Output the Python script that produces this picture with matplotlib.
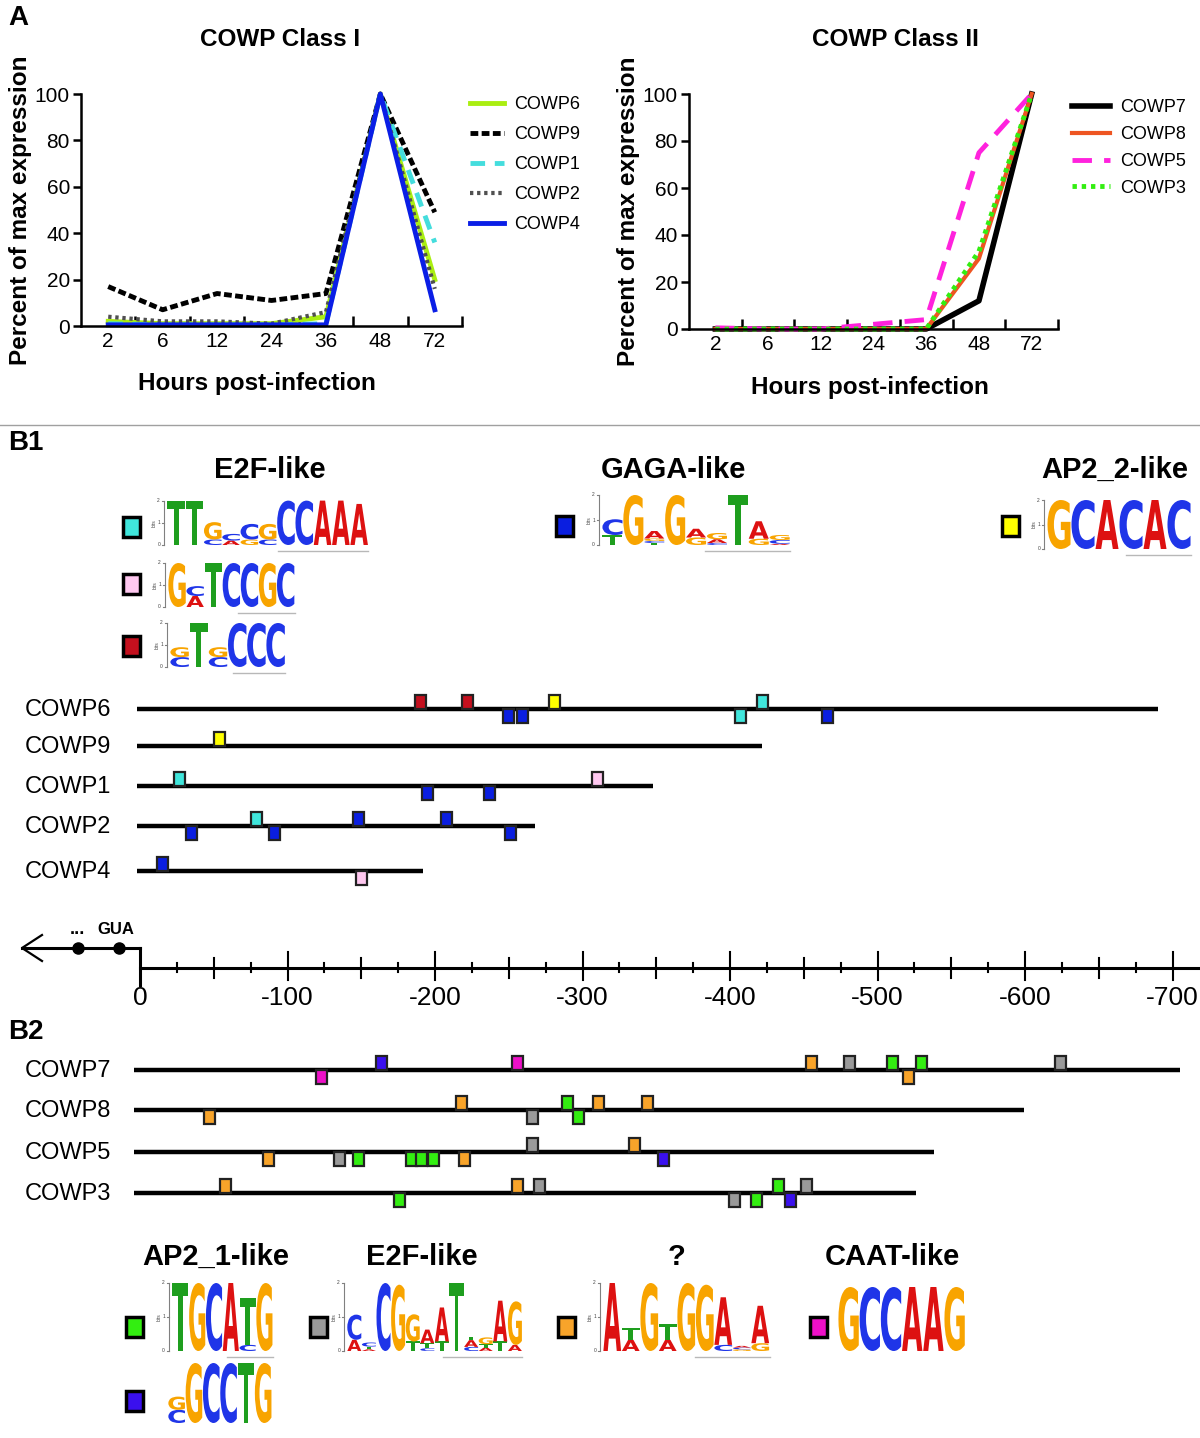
import numpy as np
import matplotlib
matplotlib.use('Agg')
import matplotlib.pyplot as plt
from matplotlib.textpath import TextPath
from matplotlib.patches import PathPatch, Rectangle
from matplotlib.font_manager import FontProperties
from matplotlib.transforms import Affine2D

plt.rcParams['font.family'] = ['Liberation Sans', 'DejaVu Sans']
NARROW = ['Liberation Sans Narrow', 'Liberation Sans', 'DejaVu Sans']

# ---- panel A data: percent of max expression ----
hours = ['2', '6', '12', '24', '36', '48', '72']

class1_names = ['COWP6', 'COWP9', 'COWP1', 'COWP2', 'COWP4']
cowp6 = [2, 1, 1, 1, 4, 100, 20]
cowp9 = [17, 7, 14, 11, 14, 100, 49]
cowp1 = [1, 0.5, 0.5, 0.5, 1, 100, 36]
cowp2 = [4, 2, 2, 1, 6, 100, 16]
cowp4 = [0.5, 0.5, 0.5, 0.5, 0.5, 100, 7]

class2_names = ['COWP7', 'COWP8', 'COWP5', 'COWP3']
cowp7 = [0, 0, 0, 0, 0, 12, 100]
cowp8 = [0, 0, 0, 0, 0, 30, 100]
cowp5 = [0.5, 0, 0, 2, 4, 75, 100]
cowp3 = [0, 0, 0, 0, 0, 33, 100]

# ---- panel B: promoter lengths (bp upstream) and motif sites (bp, strand, motif) ----
b1_genes = ['COWP6', 'COWP9', 'COWP1', 'COWP2', 'COWP4']
b1_lengths = [690, 422, 348, 268, 192]
b1_sites = [
    [(190, '+', 'e2f_c'), (222, '+', 'e2f_c'), (250, '-', 'gaga'), (259, '-', 'gaga'),
     (281, '+', 'ap2_2'), (407, '-', 'e2f_a'), (422, '+', 'e2f_a'), (466, '-', 'gaga')],
    [(54, '+', 'ap2_2')],
    [(27, '+', 'e2f_a'), (195, '-', 'gaga'), (237, '-', 'gaga'), (310, '+', 'e2f_b')],
    [(35, '-', 'gaga'), (79, '+', 'e2f_a'), (91, '-', 'gaga'), (148, '+', 'gaga'),
     (208, '+', 'gaga'), (251, '-', 'gaga')],
    [(15, '+', 'gaga'), (150, '-', 'e2f_b')],
]

b2_genes = ['COWP7', 'COWP8', 'COWP5', 'COWP3']
b2_lengths = [705, 599, 538, 526]
b2_sites = [
    [(123, '-', 'caat'), (164, '+', 'ap2_1b'), (256, '+', 'caat'), (455, '+', 'unk'),
     (481, '+', 'e2f_2'), (510, '+', 'ap2_1a'), (521, '-', 'unk'), (530, '+', 'ap2_1a'),
     (624, '+', 'e2f_2')],
    [(47, '-', 'unk'), (218, '+', 'unk'), (266, '-', 'e2f_2'), (290, '+', 'ap2_1a'),
     (297, '-', 'ap2_1a'), (311, '+', 'unk'), (344, '+', 'unk')],
    [(87, '-', 'unk'), (135, '-', 'e2f_2'), (148, '-', 'ap2_1a'), (184, '-', 'ap2_1a'),
     (191, '-', 'ap2_1a'), (199, '-', 'ap2_1a'), (220, '-', 'unk'), (266, '+', 'e2f_2'),
     (335, '+', 'unk'), (355, '-', 'ap2_1b')],
    [(58, '+', 'unk'), (176, '-', 'ap2_1a'), (256, '+', 'unk'), (271, '+', 'e2f_2'),
     (403, '-', 'e2f_2'), (418, '-', 'ap2_1a'), (433, '+', 'ap2_1a'), (441, '-', 'ap2_1b'),
     (452, '+', 'e2f_2')],
]

ruler_ticks = np.arange(0, 701, 25)

# ---- sequence logos: each position is a stack (letter, bits), bottom to top ----
logo_e2f_a = [[('T', 2.0)], [('T', 2.0)], [('C', 0.25), ('G', 0.78)], [('A', 0.2), ('C', 0.3)],
              [('G', 0.25), ('C', 0.7)], [('C', 0.25), ('G', 0.7)], [('C', 2.0)], [('C', 2.0)],
              [('A', 2.0)], [('A', 2.0)], [('A', 1.85)]]
logo_e2f_b = [[('G', 2.0)], [('A', 0.5), ('C', 0.45)], [('T', 2.0)], [('C', 2.0)], [('C', 2.0)],
              [('G', 2.0)], [('C', 2.0)]]
logo_e2f_c = [[('C', 0.45), ('G', 0.45)], [('T', 2.0)], [('C', 0.45), ('G', 0.45)],
              [('C', 2.0)], [('C', 2.0)], [('C', 2.0)]]
logo_gaga = [[('T', 0.4), ('C', 0.63)], [('G', 2.0)],
             [('T', 0.08), ('C', 0.08), ('G', 0.1), ('A', 0.3)], [('G', 2.0)],
             [('G', 0.3), ('A', 0.35)], [('C', 0.08), ('A', 0.15), ('G', 0.25)], [('T', 2.0)],
             [('G', 0.25), ('A', 0.7)], [('A', 0.05), ('C', 0.15), ('G', 0.2)]]
logo_ap2_2 = [[('G', 2.0)], [('C', 2.0)], [('A', 2.0)], [('C', 2.0)], [('A', 2.0)], [('C', 2.0)]]
logo_ap2_1a = [[('T', 2.0)], [('G', 2.0)], [('C', 2.0)], [('A', 2.0)],
               [('C', 0.18), ('T', 1.37)], [('G', 2.0)]]
logo_ap2_1b = [[('C', 0.44), ('G', 0.44)], [('G', 2.0)], [('C', 2.0)], [('C', 2.0)],
               [('T', 2.0)], [('G', 2.0)]]
logo_e2f_2 = [[('A', 0.33), ('C', 0.74)], [('A', 0.05), ('T', 0.08), ('C', 0.12)], [('C', 2.0)],
              [('G', 1.95)], [('T', 0.28), ('G', 0.8)], [('C', 0.08), ('T', 0.15), ('A', 0.4)],
              [('T', 0.28), ('A', 1.0)], [('T', 2.0)], [('C', 0.12), ('A', 0.2), ('T', 0.1)],
              [('A', 0.1), ('T', 0.1), ('G', 0.2)], [('T', 0.28), ('A', 1.2)],
              [('A', 0.18), ('G', 1.28)]]
logo_unk = [[('A', 2.0)], [('A', 0.33), ('T', 0.35)], [('G', 2.0)], [('A', 0.33), ('T', 0.45)],
            [('G', 2.0)], [('G', 1.95)], [('C', 0.18), ('A', 1.4)],
            [('G', 0.05), ('C', 0.05), ('A', 0.05)], [('G', 0.23), ('A', 1.1)]]
logo_caat = [[('G', 2.0)], [('C', 2.0)], [('C', 2.0)], [('A', 2.0)], [('A', 2.0)], [('G', 2.0)]]

motif_col = {'e2f_a': '#40e6dc', 'e2f_b': '#ffc8f0', 'e2f_c': '#c4101e', 'gaga': '#0a1ee0',
             'ap2_2': '#ffff00', 'ap2_1a': '#33ee11', 'ap2_1b': '#3a10ee', 'e2f_2': '#9a9a9a',
             'unk': '#f8a42a', 'caat': '#ee10c8'}
letter_col = {'A': '#dd1111', 'C': '#1f35e8', 'G': '#f8a400', 'T': '#1e9e1e'}

W, H = 1200, 1438
fig = plt.figure(figsize=(12, 14.38), dpi=100)


def box(x0, y0, x1, y1):
    return [x0 / W, 1 - y1 / H, (x1 - x0) / W, (y1 - y0) / H]


# background axes in pixel units, track axes in bp units
ax_bg = fig.add_axes([0, 0, 1, 1])
ax_bg.set_xlim(0, W)
ax_bg.set_ylim(H, 0)
ax_bg.axis('off')

PX0, PXBP = 140, 1.475   # pixel of position 0, pixels per bp
ax_trk = fig.add_axes([0, 0, 1, 1])
ax_trk.set_xlim(PX0 / PXBP, -(W - PX0) / PXBP)
ax_trk.set_ylim(H, 0)
ax_trk.axis('off')
ax_trk.patch.set_visible(False)

# ---------------- panel A ----------------
axL = fig.add_axes(box(81, 94, 462, 326))
axR = fig.add_axes(box(689, 94, 1058, 329))

x = np.arange(len(hours))
style1 = [dict(color='#aaee11', lw=3.5, ls='-'),
          dict(color='black', lw=3.5, ls=(0, (1.6, 0.7))),
          dict(color='#44dddd', lw=3.5, ls=(0, (3, 2))),
          dict(color='#505050', lw=3, ls=(0, (0.8, 0.9))),
          dict(color='#0a1ee6', lw=3.5, ls='-')]
for name, vals, st in zip(class1_names, [cowp6, cowp9, cowp1, cowp2, cowp4], style1):
    axL.plot(x, vals, label=name, clip_on=False, **st)

style2 = [dict(color='black', lw=4, ls='-'),
          dict(color='#ee5522', lw=3, ls='-'),
          dict(color='#ff22dd', lw=3.5, ls=(0, (4, 2.5))),
          dict(color='#33ee11', lw=3.5, ls=(0, (0.9, 1.0)))]
for name, vals, st in zip(class2_names, [cowp7, cowp8, cowp5, cowp3], style2):
    axR.plot(x, vals, label=name, clip_on=False, **st)

for ax in (axL, axR):
    ax.spines[['top', 'right']].set_visible(False)
    ax.spines[['left', 'bottom']].set_linewidth(1.8)
    ax.set_xlim(-0.5, 6.5)
    ax.set_ylim(0, 100)
    ax.set_yticks([0, 20, 40, 60, 80, 100])
    ax.set_xticks(x)
    ax.set_xticklabels(hours)
    ax.set_xticks(np.arange(0.5, 7, 1), minor=True)
    ax.tick_params(axis='x', which='major', length=0, pad=4)
    ax.tick_params(axis='x', which='minor', direction='in', length=7, width=1.8)
    ax.tick_params(axis='y', direction='out', length=6, width=1.8, pad=2)
    for lab in ax.get_xticklabels() + ax.get_yticklabels():
        lab.set_fontfamily(NARROW)
        lab.set_fontsize(15)
    ax.set_ylabel('Percent of max expression', fontsize=17.5, fontweight='bold')
    ax.set_xlabel('Hours post-infection', fontsize=17.5, fontweight='bold')
    ax.patch.set_visible(False)

axL.yaxis.set_label_coords(-0.128, 0.5)
axR.yaxis.set_label_coords(-0.133, 0.5)
axL.xaxis.set_label_coords(0.462, -0.2)
axR.xaxis.set_label_coords(0.49, -0.2)

axL.legend(loc='upper left', bbox_to_anchor=(470 / W, 1 - 96 / H), bbox_transform=fig.transFigure,
           frameon=False, fontsize=13, handlelength=1.9, handletextpad=0.55, labelspacing=0.72,
           borderpad=0, borderaxespad=0)
axR.legend(loc='upper left', bbox_to_anchor=(1072 / W, 1 - 99 / H), bbox_transform=fig.transFigure,
           frameon=False, fontsize=13, handlelength=2.1, handletextpad=0.55, labelspacing=0.55,
           borderpad=0, borderaxespad=0)

fig.text(280 / W, 1 - 40 / H, 'COWP Class I', ha='center', va='center', fontsize=17.5, fontweight='bold')
fig.text(895 / W, 1 - 40 / H, 'COWP Class II', ha='center', va='center', fontsize=17.5, fontweight='bold')

# panel letters and separator
ax_bg.text(8, 18, 'A', fontsize=20, fontweight='bold', va='center')
ax_bg.text(8, 443, 'B1', fontsize=20, fontweight='bold', va='center')
ax_bg.text(8, 1032, 'B2', fontsize=20, fontweight='bold', va='center')
ax_bg.plot([0, W], [425, 425], color='#a0a0a0', lw=1)

# ---------------- sequence logos ----------------
LOGO_FONT = FontProperties(family='DejaVu Sans', weight='bold')


def draw_letter(ch, x0, y_bot, w, h):
    tp = TextPath((0, 0), ch, size=1, prop=LOGO_FONT)
    bb = tp.get_extents()
    tr = Affine2D().translate(-bb.x0, -bb.y0).scale(w / bb.width, -h / bb.height).translate(x0, y_bot)
    ax_bg.add_patch(PathPatch(tr.transform_path(tp), color=letter_col[ch], lw=0))


def draw_logo(stacks, x0, y0, col_w, bit_h, axis=True):
    for i, stack in enumerate(stacks):
        yb = y0
        for ch, bits in stack:
            h = bits * bit_h
            draw_letter(ch, x0 + i * col_w + col_w * 0.02, yb, col_w * 0.96, h)
            yb -= h
    if axis:
        ax_x = x0 - 3
        ax_bg.plot([ax_x, ax_x], [y0, y0 - 2 * bit_h], color='#808080', lw=0.8)
        for b in (0, 1, 2):
            yy = y0 - b * bit_h
            ax_bg.plot([ax_x - 2.5, ax_x], [yy, yy], color='#808080', lw=0.8)
            ax_bg.text(ax_x - 4, yy, str(b), fontsize=3.5, ha='right', va='center', color='#404040')
        ax_bg.text(ax_x - 10, y0 - bit_h, 'bits', fontsize=3.5, rotation=90, ha='center', va='center',
                   color='#404040')
        ax_bg.plot([x0 + len(stacks) * col_w * 0.55, x0 + len(stacks) * col_w],
                   [y0 + 6, y0 + 6], color='#b8b8b8', lw=1.0)


def legend_square(cx, cy, motif):
    ax_bg.add_patch(Rectangle((cx - 8.5, cy - 10), 17, 20, fc=motif_col[motif], ec='black', lw=2.5))


# B1 headings, logos, squares
for txt, cx, cy in [('E2F-like', 270, 470), ('GAGA-like', 673, 470), ('AP2_2-like', 1115, 470)]:
    ax_bg.text(cx, cy, txt, ha='center', va='center', fontsize=21, fontweight='bold')
legend_square(131, 527, 'e2f_a')
legend_square(131, 584, 'e2f_b')
legend_square(131, 646, 'e2f_c')
legend_square(564, 526, 'gaga')
legend_square(1010, 526, 'ap2_2')
draw_logo(logo_e2f_a, 167, 545, 18.3, 22.2)
draw_logo(logo_e2f_b, 168, 607, 18.1, 22.0)
draw_logo(logo_e2f_c, 170, 667, 19.2, 22.0)
draw_logo(logo_gaga, 602, 545, 20.9, 25.0)
draw_logo(logo_ap2_2, 1047, 549, 24.0, 24.5)

# B2 headings, logos, squares
for txt, cx, cy in [('AP2_1-like', 216, 1257), ('E2F-like', 422, 1257), ('?', 677, 1257),
                    ('CAAT-like', 892, 1257)]:
    ax_bg.text(cx, cy, txt, ha='center', va='center', fontsize=21, fontweight='bold')
legend_square(134, 1327, 'ap2_1a')
legend_square(318, 1327, 'e2f_2')
legend_square(566, 1327, 'unk')
legend_square(818, 1327, 'caat')
legend_square(134, 1401, 'ap2_1b')
draw_logo(logo_ap2_1a, 172, 1351, 16.8, 34.0)
draw_logo(logo_ap2_1b, 168, 1423, 17.3, 30.0, axis=False)
draw_logo(logo_e2f_2, 347, 1351, 14.6, 34.0)
draw_logo(logo_unk, 603, 1351, 18.5, 34.0)
draw_logo(logo_caat, 838, 1351, 21.2, 32.0, axis=False)

# ---------------- promoter tracks ----------------
MW, MH = 11 / PXBP, 14


def draw_track(name, length, sites, y, start):
    ax_trk.plot([start, -length], [y, y], color='black', lw=3.2, solid_capstyle='butt', zorder=2)
    ax_bg.text(25, y + 1, name, ha='left', va='center', fontsize=17)
    for bp, strand, motif in sites:
        y0 = y - MH if strand == '+' else y
        ax_trk.add_patch(Rectangle((-bp - MW / 2, y0), MW, MH, fc=motif_col[motif], ec='#222222',
                                   lw=1.6, zorder=3))


for name, length, sites, y in zip(b1_genes, b1_lengths, b1_sites, [709, 746, 786, 826, 871]):
    draw_track(name, length, sites, y, 2)
for name, length, sites, y in zip(b2_genes, b2_lengths, b2_sites, [1070, 1110, 1152, 1193]):
    draw_track(name, length, sites, y, 4)

# ruler
RY = 968
ax_trk.plot([0, -(W - PX0) / PXBP], [RY, RY], color='black', lw=2.2)
for t in ruler_ticks:
    if t == 0:
        continue
    if t % 100 == 0:
        top, bot = RY - 16, RY + 12
    elif t % 50 == 0:
        top, bot = RY - 10, RY + 10
    else:
        top, bot = RY - 5, RY + 4
    ax_trk.plot([-t, -t], [top, bot], color='black', lw=1.5)
for t in ruler_ticks[ruler_ticks % 100 == 0]:
    ax_trk.text(-t, 998, str(-t) if t else '0', ha='center', va='center', fontsize=19,
                fontfamily=NARROW)
# start codon side: step, dots and arrow
ax_trk.plot([0, 0], [948, 985], color='black', lw=2.2)
ax_trk.plot([0, (PX0 - 22) / PXBP], [948, 948], color='black', lw=2.2)
ax_trk.plot([(PX0 - 78) / PXBP, (PX0 - 119) / PXBP], [948, 948], 'o', color='black', ms=8)
ax_trk.plot([(PX0 - 42) / PXBP, (PX0 - 22) / PXBP, (PX0 - 42) / PXBP], [935, 948, 961],
            color='black', lw=1.6)
ax_bg.text(70, 930, '...', ha='left', va='center', fontsize=13, fontweight='bold', fontfamily=NARROW)
ax_bg.text(97, 930, 'GUA', ha='left', va='center', fontsize=12, fontweight='bold', fontfamily=NARROW)

fig.savefig('out.png', dpi=100)
